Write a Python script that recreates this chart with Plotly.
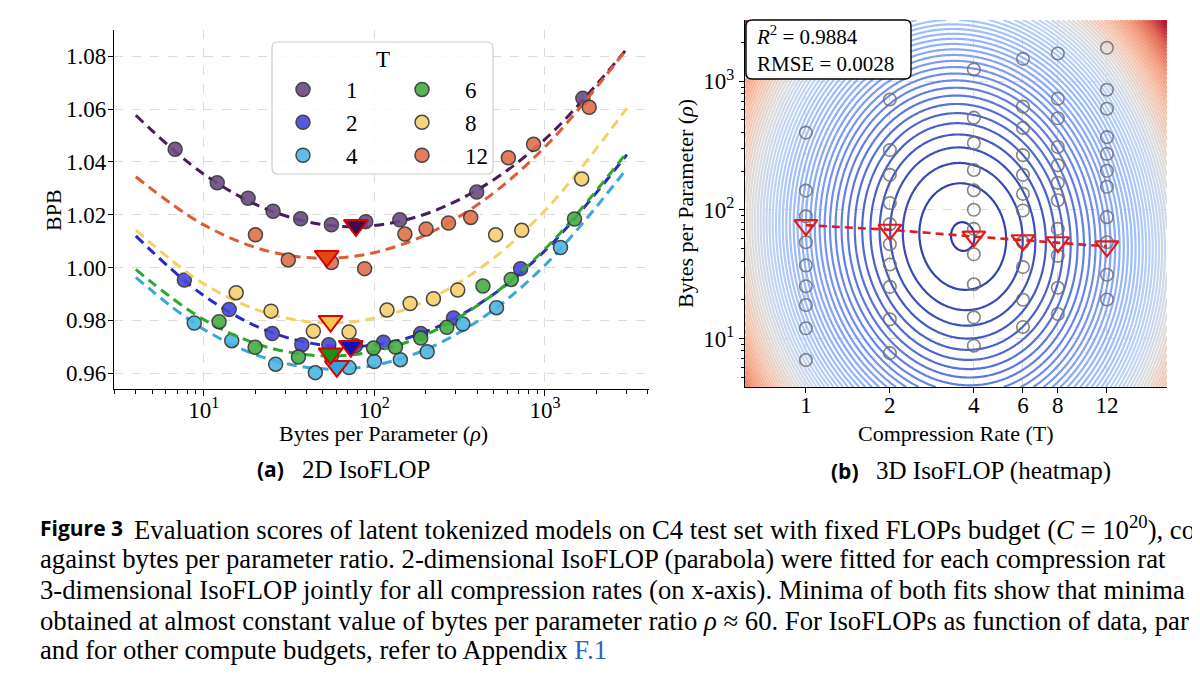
import numpy as np
import plotly.graph_objects as go

W, H = 1200, 675
OFF = 8  # page margin of the browser body

# ---------------- data ----------------
T_values = [1, 2, 4, 6, 8, 12]
T_labels = ["1", "2", "4", "6", "8", "12"]

rho_T1 = [6.8, 12.0, 18.2, 25.5, 37.0, 56.0, 89.0, 141, 398, 1667]
bpb_T1 = [1.0448, 1.0321, 1.0263, 1.0213, 1.0185, 1.0162, 1.0174, 1.0181, 1.0286, 1.0641]
rho_T2 = [7.7, 14.1, 25.2, 37.6, 54.1, 77.4, 113, 187, 291, 720]
bpb_T2 = [0.9953, 0.9841, 0.9750, 0.9708, 0.9708, 0.9704, 0.9717, 0.9750, 0.9809, 0.9996]
rho_T4 = [8.8, 14.6, 26.4, 45.1, 71.1, 100, 142, 204, 330, 520, 1233]
bpb_T4 = [0.9790, 0.9723, 0.9634, 0.9602, 0.9621, 0.9644, 0.9651, 0.9681, 0.9786, 0.9848, 1.0076]
rho_T6 = [12.3, 20.0, 35.9, 56.0, 98.9, 133, 187, 266, 433, 634, 1489]
bpb_T6 = [0.9795, 0.9698, 0.9661, 0.9665, 0.9695, 0.9699, 0.9733, 0.9774, 0.9930, 0.9955, 1.0184]
rho_T8 = [15.5, 24.8, 43.9, 71.1, 118.6, 162, 222, 308, 514, 731, 1641]
bpb_T8 = [0.9905, 0.9835, 0.9759, 0.9756, 0.9839, 0.9864, 0.9882, 0.9915, 1.0124, 1.0141, 1.0336]
rho_T12 = [20.1, 31.3, 56.0, 87.7, 151, 201, 272, 367, 610, 857, 1816]
bpb_T12 = [1.0124, 1.0029, 1.0019, 0.9996, 1.0127, 1.0146, 1.0169, 1.0190, 1.0416, 1.0467, 1.0607]

# dashed parabola fits (2D IsoFLOP), read at these rho values
fit_rho = [4, 10, 25, 63, 158, 398, 1000, 3020]
fit_T1 = [1.0577, 1.0354, 1.0214, 1.0156, 1.0183, 1.0293, 1.0486, 1.0829]
fit_T2 = [1.0120, 0.9894, 0.9754, 0.9701, 0.9734, 0.9856, 1.0064, 1.0428]
fit_T4 = [0.9963, 0.9766, 0.9650, 0.9615, 0.9664, 0.9795, 1.0009, 1.0375]
fit_T6 = [0.9993, 0.9803, 0.9694, 0.9666, 0.9719, 0.9854, 1.0070, 1.0436]
fit_T8 = [1.0142, 0.9939, 0.9822, 0.9791, 0.9846, 0.9988, 1.0216, 1.0604]
fit_T12 = [1.0344, 1.0162, 1.0059, 1.0037, 1.0096, 1.0236, 1.0457, 1.0829]

# minima of the 2D fits
opt2d_rho = [78, 72.8, 60.3, 55.4, 55.4, 52.6]
opt2d_bpb = [1.0160, 0.9702, 0.9626, 0.9674, 0.9797, 1.0043]

# minima of the 3D fit
opt3d_rho = [76, 70, 62, 58, 56, 52]

# points not used in the 3D fit
excluded_3d = [(1, 1667)]

# 3D IsoFLOP fit surface (in log T, log rho)
fit3d_min_bpb = 0.960
fit3d_center_T = 3.65
fit3d_center_rho = 62.0
fit3d_curv_T = 0.17
fit3d_curv_rho = 0.024
fit3d_cross = 0.0073
fit3d_quartic = 2.9
fit3d_first_level = 0.0003
fit3d_level_step = 0.00385
fit3d_r2 = "0.9884"
fit3d_rmse = "0.0028"

# axis ranges
left_rho_range = [2.98, 4070]
left_bpb_range = [0.954, 1.090]
right_T_range = [0.605, 19.7]
right_rho_range = [4.2, 2985]
bpb_ticks = [0.96, 0.98, 1.00, 1.02, 1.04, 1.06, 1.08]

# ---------------- styles ----------------
marker_colors = {1: "#6b4a82", 2: "#4747d9", 4: "#4cb6e2", 6: "#45ad45", 8: "#f6d06e", 12: "#e2704a"}
line_colors = {1: "#4a1c5c", 2: "#2a2ac4", 4: "#3aa6da", 6: "#2da82d", 8: "#f2d266", 12: "#e05a35"}
tri_fill = {1: "#3d0b4f", 2: "#1212b0", 4: "#33a3dc", 6: "#149414", 8: "#f5c94a", 12: "#e04a12"}
coolwarm = [[0.0, "#2c3aa8"], [0.125, "#5a78e0"], [0.25, "#8db0fe"], [0.375, "#b8d0f9"],
            [0.5, "#dddddd"], [0.625, "#f5c4ad"], [0.75, "#f49a7b"], [0.875, "#de604d"], [1.0, "#b40426"]]
SERIF = "Liberation Serif"
SANS = "Open Sans"

rho_by_T = {1: rho_T1, 2: rho_T2, 4: rho_T4, 6: rho_T6, 8: rho_T8, 12: rho_T12}
bpb_by_T = {1: bpb_T1, 2: bpb_T2, 4: bpb_T4, 6: bpb_T6, 8: bpb_T8, 12: bpb_T12}
fit_by_T = {1: fit_T1, 2: fit_T2, 4: fit_T4, 6: fit_T6, 8: fit_T8, 12: fit_T12}


def fx(p):
    return (p - OFF) / W


def fy(p):
    return 1 - (p - OFF) / H


def rounded_path(x0, y0, x1, y1, r):
    X = fx
    Y = fy
    return (f"M {X(x0 + r)},{Y(y0)} L {X(x1 - r)},{Y(y0)} Q {X(x1)},{Y(y0)} {X(x1)},{Y(y0 + r)} "
            f"L {X(x1)},{Y(y1 - r)} Q {X(x1)},{Y(y1)} {X(x1 - r)},{Y(y1)} "
            f"L {X(x0 + r)},{Y(y1)} Q {X(x0)},{Y(y1)} {X(x0)},{Y(y1 - r)} "
            f"L {X(x0)},{Y(y0 + r)} Q {X(x0)},{Y(y0)} {X(x0 + r)},{Y(y0)} Z")


fig = go.Figure()

# ---------------- left panel: 2D IsoFLOP ----------------
for T in T_values:
    fig.add_trace(go.Scatter(
        x=fit_rho, y=fit_by_T[T], mode="lines", xaxis="x", yaxis="y",
        line=dict(color=line_colors[T], width=3, dash="10px,6px", shape="spline"),
        showlegend=False, hoverinfo="skip"))
    fig.add_trace(go.Scatter(
        x=rho_by_T[T], y=bpb_by_T[T], mode="markers", xaxis="x", yaxis="y",
        name="\u00a0\u00a0\u00a0\u00a0" + str(T),
        legend="legend" if T in (1, 2, 4) else "legend2",
        marker=dict(size=14, color=marker_colors[T], opacity=0.9,
                    line=dict(color="#333333", width=1.5)),
        hoverinfo="skip"))

for i, T in enumerate(T_values):
    fig.add_trace(go.Scatter(
        x=[opt2d_rho[i]], y=[opt2d_bpb[i]], mode="markers", xaxis="x", yaxis="y",
        marker=dict(symbol="triangle-down", size=21, color=tri_fill[T],
                    line=dict(color="#e00000", width=2)),
        showlegend=False, hoverinfo="skip"))

# ---------------- right panel: 3D IsoFLOP heatmap ----------------
logT = np.linspace(np.log10(right_T_range[0]), np.log10(right_T_range[1]), 261)
logR = np.linspace(np.log10(right_rho_range[0]), np.log10(right_rho_range[1]), 261)
U = logT[None, :] - np.log10(fit3d_center_T)
V = logR[:, None] - np.log10(fit3d_center_rho)
Q = fit3d_curv_T * U ** 2 + fit3d_curv_rho * V ** 2 + fit3d_cross * U * V
Z = fit3d_min_bpb + Q + fit3d_quartic * Q ** 2
zmax = float(Z.max())

fig.add_trace(go.Contour(
    x=10 ** logT, y=10 ** logR, z=Z, xaxis="x2", yaxis="y2",
    autocontour=False,
    contours=dict(start=fit3d_min_bpb + fit3d_first_level, end=zmax,
                  size=fit3d_level_step, coloring="lines"),
    colorscale=coolwarm, zmin=fit3d_min_bpb, zmax=zmax,
    line=dict(width=2.2), showscale=False, hoverinfo="skip"))

cx, cy = [], []
for T in T_values:
    for r in rho_by_T[T]:
        if (T, r) in excluded_3d:
            continue
        cx.append(T)
        cy.append(r)
fig.add_trace(go.Scatter(
    x=cx, y=cy, mode="markers", xaxis="x2", yaxis="y2",
    marker=dict(symbol="circle-open", size=12.5, color="rgba(110,110,110,0.85)",
                line=dict(width=1.6)),
    showlegend=False, hoverinfo="skip"))

fig.add_trace(go.Scatter(
    x=T_values, y=opt3d_rho, mode="lines+markers", xaxis="x2", yaxis="y2",
    line=dict(color="#e41a1c", width=2.6, dash="8px,5px"),
    marker=dict(symbol="triangle-down-open", size=20, color="#e41a1c",
                line=dict(width=2.2)),
    showlegend=False, hoverinfo="skip"))

# dummy trace carrying the colorbar
fig.add_trace(go.Scatter(
    x=[T_values[0]], y=[opt3d_rho[0]], mode="markers", xaxis="x2", yaxis="y2",
    marker=dict(color=[fit3d_min_bpb], cmin=fit3d_min_bpb, cmax=zmax,
                colorscale=coolwarm, opacity=0, showscale=True,
                colorbar=dict(x=fx(1193), xanchor="left", xpad=0, ypad=0,
                              y=fy(20), yanchor="top", len=(387 - 20) / H,
                              lenmode="fraction", thickness=30,
                              outlinewidth=1.5, outlinecolor="black",
                              showticklabels=False, ticks="")),
    showlegend=False, hoverinfo="skip"))

# ---------------- layout ----------------
tickfont = dict(family=SERIF, size=23, color="black")
grid = dict(showgrid=True, gridcolor="#dcdcdc", griddash="dash", gridwidth=1)

minor_left = [v * m for m in (1, 10, 100, 1000) for v in range(2, 10)
              if left_rho_range[0] <= v * m <= left_rho_range[1]]
minor_right = [v * m for m in (1, 10, 100, 1000) for v in range(2, 10)
               if right_rho_range[0] <= v * m <= right_rho_range[1]]

fig.update_layout(
    width=W, height=H,
    margin=dict(l=0, r=0, t=0, b=0, autoexpand=False),
    paper_bgcolor="white", plot_bgcolor="white",
    hovermode=False,
    font=dict(family=SERIF, size=22, color="black"),
    xaxis=dict(domain=[fx(114), fx(649)], anchor="y", type="log",
               range=[np.log10(left_rho_range[0]), np.log10(left_rho_range[1])],
               tickvals=[10, 100, 1000],
               ticktext=["10<sup>1</sup>", "10<sup>2</sup>", "10<sup>3</sup>"],
               ticks="outside", ticklen=6, tickwidth=1.2, tickcolor="black",
               ticklabelstandoff=-6,
               showline=True, linecolor="black", linewidth=1.2, zeroline=False,
               tickfont=tickfont,
               minor=dict(tickmode="array", tickvals=minor_left, ticks="outside",
                          ticklen=3.5, tickwidth=1, tickcolor="black", showgrid=False),
               **grid),
    yaxis=dict(domain=[fy(389), fy(30)], anchor="x",
               range=left_bpb_range, tickvals=bpb_ticks,
               ticktext=[f"{v:.2f}" for v in bpb_ticks],
               ticks="outside", ticklen=5, tickwidth=1.2, tickcolor="black",
               ticklabelstandoff=-3,
               showline=True, linecolor="black", linewidth=1.2, zeroline=False,
               tickfont=tickfont, **grid),
    xaxis2=dict(domain=[fx(745), fx(1167)], anchor="y2", type="log",
                range=[np.log10(right_T_range[0]), np.log10(right_T_range[1])],
                tickvals=T_values, ticktext=T_labels,
                ticks="outside", ticklen=5, tickwidth=1.2, tickcolor="black",
                ticklabelstandoff=-8,
                showline=True, linecolor="black", linewidth=1.2, zeroline=False,
                tickfont=tickfont, **grid),
    yaxis2=dict(domain=[fy(387), fy(20)], anchor="x2", type="log",
                range=[np.log10(right_rho_range[0]), np.log10(right_rho_range[1])],
                tickvals=[10, 100, 1000],
                ticktext=["10<sup>1</sup>", "10<sup>2</sup>", "10<sup>3</sup>"],
                ticks="outside", ticklen=5, tickwidth=1.2, tickcolor="black",
                showline=True, linecolor="black", linewidth=1.2, zeroline=False,
                tickfont=tickfont,
                minor=dict(tickmode="array", tickvals=minor_right, ticks="outside",
                           ticklen=3, tickwidth=1, tickcolor="black", showgrid=False),
                **grid),
    legend=dict(x=fx(283), y=fy(68), xanchor="left", yanchor="top",
                bgcolor="rgba(0,0,0,0)", borderwidth=0, tracegroupgap=0,
                font=dict(family=SERIF, size=23, color="black")),
    legend2=dict(x=fx(402), y=fy(68), xanchor="left", yanchor="top",
                 bgcolor="rgba(0,0,0,0)", borderwidth=0, tracegroupgap=0,
                 font=dict(family=SERIF, size=23, color="black")),
)

# legend frame and R^2 box
fig.add_shape(type="path", xref="paper", yref="paper", layer="above",
              path=rounded_path(272, 42, 493, 174, 6),
              line=dict(color="#cccccc", width=1.2), fillcolor="rgba(255,255,255,0.8)")
fig.add_shape(type="path", xref="paper", yref="paper", layer="above",
              path=rounded_path(746, 20, 911, 79, 6),
              line=dict(color="black", width=1.4), fillcolor="white")

ann = []


def text(x, y, s, size=22, family=SERIF, xanchor="center", angle=0, color="black"):
    ann.append(dict(x=fx(x), y=fy(y), xref="paper", yref="paper", text=s,
                    showarrow=False, xanchor=xanchor, yanchor="middle",
                    textangle=angle, font=dict(family=family, size=size, color=color),
                    align="left"))


text(383, 60, "T", size=23)
text(754, 49, f"<i>R</i><sup>2</sup> = {fit3d_r2}<br>RMSE = {fit3d_rmse}", size=21, xanchor="left")

text(383, 434, "Bytes per Parameter (<i>ρ</i>)")
text(53, 210, "BPB", angle=-90)
text(956, 433, "Compression Rate (T)")
text(686, 203, "Bytes per Parameter (<i>ρ</i>)", angle=-90)

text(286, 469, "<b>(a)</b>", size=21, family=SANS, xanchor="right")
text(300, 469, "2D IsoFLOP", size=25, xanchor="left")
text(861, 471, "<b>(b)</b>", size=21, family=SANS, xanchor="right")
text(874, 471, "3D IsoFLOP (heatmap)", size=25, xanchor="left")

caption_lines = [
    "Evaluation scores of latent tokenized models on C4 test set with fixed FLOPs budget (<i>C</i> = 10<sup>20</sup>), co",
    "against bytes per parameter ratio. 2-dimensional IsoFLOP (parabola) were fitted for each compression rat",
    "3-dimensional IsoFLOP jointly for all compression rates (on x-axis). Minima of both fits show that minima",
    "obtained at almost constant value of bytes per parameter ratio <i>ρ</i> ≈ 60. For IsoFLOPs as function of data, par",
    "and for other compute budgets, refer to Appendix <span style='color:#2a63c6'>F.1</span>",
]
caption_y = [528, 559, 590, 621, 650]
text(38, 528, "<b>Figure 3</b>", size=21, family=SANS, xanchor="left")
for i, line in enumerate(caption_lines):
    text(132 if i == 0 else 38, caption_y[i], line, size=26.7, xanchor="left")

fig.update_layout(annotations=ann)

fig.write_html("out.html")
